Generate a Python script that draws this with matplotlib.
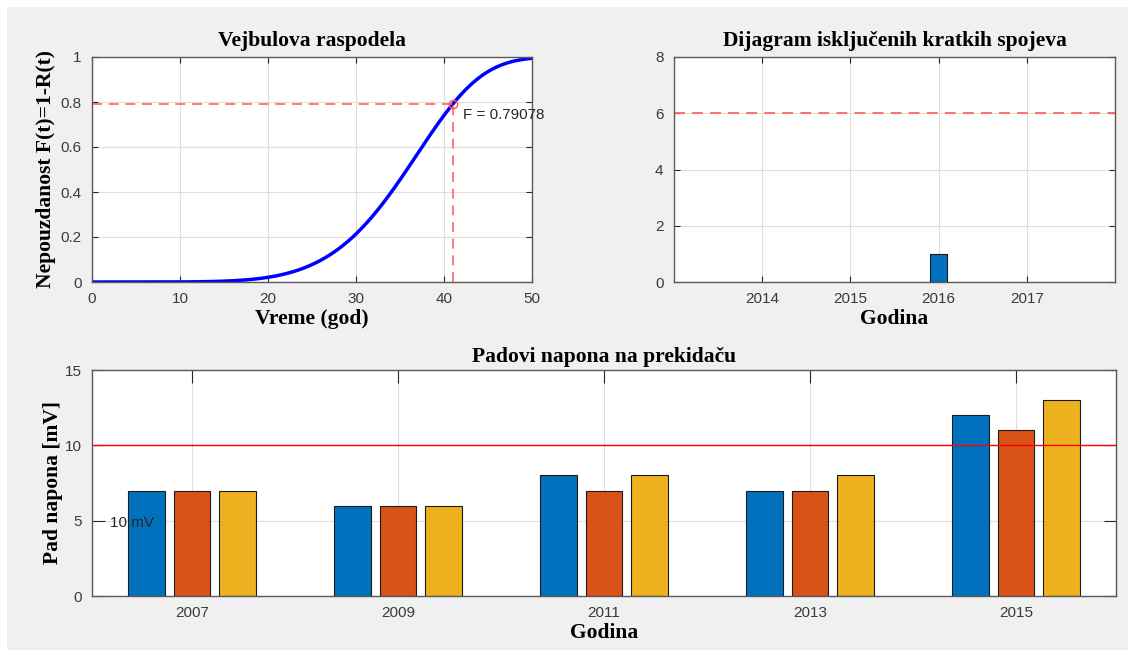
import numpy as np
import matplotlib
matplotlib.use("Agg")
import matplotlib.pyplot as plt
from matplotlib.patches import Rectangle

# Weibull parameters (shape, scale)
beta = 6.0
eta = 38.05
t_mark = 41
F_mark = 0.79078

# short-circuit disconnections per year
sc_years = [2016]
sc_counts = [1]
sc_limit = 6

# voltage drops on the breaker [mV], three phases per year
years = [2007, 2009, 2011, 2013, 2015]
phase1 = [7, 6, 8, 7, 12]
phase2 = [7, 6, 7, 7, 11]
phase3 = [7, 6, 8, 8, 13]
drop_limit = 10

serif = ["Liberation Serif", "DejaVu Serif"]
sans = ["Liberation Sans", "DejaVu Sans"]
plt.rcParams["font.family"] = sans
plt.rcParams["xtick.direction"] = "in"
plt.rcParams["ytick.direction"] = "in"

fig = plt.figure(figsize=(11.28, 6.5), dpi=100)
fig.patch.set_facecolor("white")
fig.patches.append(Rectangle((7 / 1128, 0), 1, 1 - 7 / 650, transform=fig.transFigure,
                             facecolor="#f0f0f0", edgecolor="none", zorder=-10))

def style(ax, ticklen):
    ax.set_facecolor("white")
    for s in ax.spines.values():
        s.set_color("#5a5a5a")
        s.set_linewidth(1.0)
    ax.grid(True, color="#dedede", linewidth=0.8)
    ax.set_axisbelow(True)
    ax.tick_params(labelsize=11, colors="#262626", length=ticklen, width=0.8,
                   top=True, right=True, pad=7.5)
    ax.tick_params(labelcolor="#3a3a3a")

title_kw = dict(family=serif, fontweight="bold", fontsize=15.5, color="black")
label_kw = dict(family=serif, fontweight="bold", fontsize=15.5, color="black")

# --- Weibull CDF ---
ax1 = fig.add_axes([92 / 1128, 368 / 650, 440 / 1128, 225 / 650])
style(ax1, 4)
t = np.linspace(0, 50, 500)
F = 1 - np.exp(-(t / eta) ** beta)
ax1.plot(t, F, color="blue", linewidth=2.5)
ax1.plot([0, t_mark], [F_mark, F_mark], "--", color="#ff6464", linewidth=1.2, dashes=(6, 4))
ax1.plot([t_mark, t_mark], [0, F_mark], "--", color="#ff6464", linewidth=1.2, dashes=(6, 4))
ax1.plot(t_mark, F_mark, "o", mfc="none", mec="#ff5050", ms=6, mew=1)
ax1.text(t_mark + 1.2, F_mark - 0.05, f"F = {F_mark}", fontsize=11, color="#262626", va="center")
ax1.set_xlim(0, 50)
ax1.set_ylim(0, 1)
ax1.set_xticks(range(0, 51, 10))
ax1.set_yticks([0, 0.2, 0.4, 0.6, 0.8, 1])
ax1.set_yticklabels(["0", "0.2", "0.4", "0.6", "0.8", "1"])
ax1.set_title("Vejbulova raspodela", pad=8, **title_kw)
ax1.set_xlabel("Vreme (god)", labelpad=2, **label_kw)
ax1.set_ylabel("Nepouzdanost F(t)=1-R(t)", labelpad=3, **label_kw)

# --- short circuits ---
ax2 = fig.add_axes([674 / 1128, 368 / 650, 441 / 1128, 225 / 650])
style(ax2, 4)
ax2.bar(sc_years, sc_counts, width=0.2, color="#0072bd", edgecolor="#1a1a1a", linewidth=0.8)
ax2.axhline(sc_limit, color="#ff6464", linestyle="--", linewidth=1.3, dashes=(6, 4))
ax2.set_xlim(2013, 2018)
ax2.set_ylim(0, 8)
ax2.set_xticks([2014, 2015, 2016, 2017])
ax2.set_yticks(range(0, 9, 2))
ax2.set_title("Dijagram isključenih kratkih spojeva", pad=8, **title_kw)
ax2.set_xlabel("Godina", labelpad=2, **label_kw)

# --- voltage drops ---
ax3 = fig.add_axes([92 / 1128, 54 / 650, 1024 / 1128, 226 / 650])
style(ax3, 9)
x = np.array(years)
off = 0.44
w = 0.355
colors = ["#0072bd", "#d95319", "#edb120"]
for k, vals in enumerate([phase1, phase2, phase3]):
    ax3.bar(x + (k - 1) * off, vals, width=w, color=colors[k], edgecolor="#1a1a1a", linewidth=0.8)
ax3.axhline(drop_limit, color="red", linewidth=1.0)
ax3.text(2006.2, 4.85, "10 mV", fontsize=11, color="#262626", va="center", ha="left")
ax3.set_xlim(2006.03, 2015.97)
ax3.set_ylim(0, 15)
ax3.set_xticks(years)
ax3.set_yticks([0, 5, 10, 15])
ax3.set_title("Padovi napona na prekidaču", pad=6, **title_kw)
ax3.set_xlabel("Godina", labelpad=2, **label_kw)
ax3.set_ylabel("Pad napona [mV]", labelpad=1, **label_kw)

fig.savefig("out.png", dpi=100, facecolor=fig.get_facecolor())
